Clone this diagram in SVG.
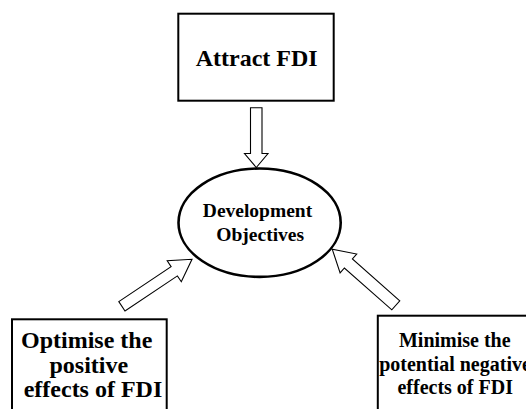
<svg xmlns="http://www.w3.org/2000/svg" width="526" height="409" viewBox="0 0 526 409">
<style>
.box{fill:#fff;stroke:#000;stroke-width:2}
.ell{fill:#fff;stroke:#000;stroke-width:2.6}
.arr{fill:#fff;stroke:#000;stroke-width:1.1;stroke-linejoin:miter}
text{font-family:'Liberation Serif','Times New Roman','DejaVu Serif',serif;font-weight:bold;fill:#000;text-anchor:middle}
.t24{font-size:24px}
.t20{font-size:20px}
.t195{font-size:19.5px}
</style>
<rect width="526" height="409" fill="#fff"/>
<g id="connectors">
<polygon class="arr" points="250.5,107.8 262,107.8 262,153.5 268,153.5 256.3,167.5 244.5,153.5 250.5,153.5"/>
<polygon class="arr" points="118.8,301.65 171.1,266.6 167.2,260.7 192.0,259.3 181.3,281.7 177.4,275.9 125.0,311.0"/>
<polygon class="arr" points="399.8,300.8 352.4,259.0 356.7,254.05 332.3,249.3 340.1,272.95 344.4,268.0 391.8,309.8"/>
</g>
<g id="attract">
<rect class="box" x="178.3" y="13.7" width="155.4" height="87"/>
<text class="t24" x="256.7" y="65.7" font-family="Liberation Serif, serif">Attract FDI</text>
</g>
<g id="objectives">
<ellipse class="ell" cx="259.6" cy="222.7" rx="81.1" ry="54.2"/>
<text class="t195" x="257.5" y="217.3" font-family="Liberation Serif, serif">Development</text>
<text class="t195" x="260.2" y="241" font-family="Liberation Serif, serif">Objectives</text>
</g>
<g id="optimise">
<rect class="box" x="12" y="319.3" width="154.7" height="110"/>
<text class="t24" x="86.7" y="347.7" font-family="Liberation Serif, serif">Optimise the</text>
<text class="t24" x="88.8" y="373" font-family="Liberation Serif, serif">positive</text>
<text class="t24" x="93" y="396.7" font-family="Liberation Serif, serif">effects of FDI</text>
</g>
<g id="minimise">
<rect class="box" x="377.8" y="315.7" width="155" height="110"/>
<text class="t20" x="454.8" y="346.7" font-family="Liberation Serif, serif">Minimise the</text>
<text class="t20" x="455" y="370.7" font-family="Liberation Serif, serif">potential negative</text>
<text class="t20" x="455.2" y="394.3" font-family="Liberation Serif, serif">effects of FDI</text>
</g>
</svg>
